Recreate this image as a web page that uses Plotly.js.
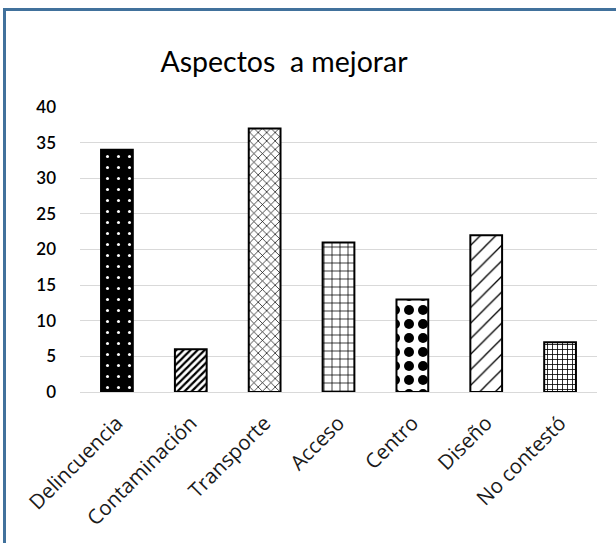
<!DOCTYPE html>
<html>
<head>
<meta charset="utf-8">
<script src="https://cdn.plot.ly/plotly-3.0.1.min.js"></script>
<style>
html,body{margin:0;padding:0;background:#fff;}
#wrap{position:relative;width:616px;height:543px;overflow:hidden;}
#chart{position:absolute;left:0;top:0;width:616px;height:543px;}
#frame{position:absolute;left:3px;top:8px;width:700px;height:700px;border-left:3px solid #41719C;border-top:3px solid #41719C;pointer-events:none;}
</style>
</head>
<body>
<div id="wrap"><div id="chart"></div><div id="frame"></div></div>
<script>
var categories = ["Delincuencia","Contaminación","Transporte","Acceso","Centro","Diseño","No contestó"];
var values = [34, 6, 37, 21, 13, 22, 7];
var yTicks = [0, 5, 10, 15, 20, 25, 30, 35, 40];
var chartTitle = "Aspectos\u00a0\u00a0a mejorar";

var patShape = [".", "/", "x", "+", ".", "/", "+"];
var patBg = ["#000000","#ffffff","#ffffff","#ffffff","#ffffff","#ffffff","#ffffff"];
var patFg = ["#ffffff","#000000","#000000","#000000","#000000","#000000","#000000"];
var patSize = [11, 5, 6, 8, 14, 11, 5];
var patSolid = [0.06, 0.45, 0.22, 0.18, 0.4, 0.12, 0.3];

var trace = {
  type: "bar",
  x: categories,
  y: values,
  marker: {
    color: "#ffffff",
    line: {color: "#000000", width: 2},
    pattern: {shape: patShape, bgcolor: patBg, fgcolor: patFg, size: patSize, solidity: patSolid, fillmode: "replace"}
  },
  hoverinfo: "x+y"
};

var layout = {
  width: 616, height: 543,
  margin: {l: 80, r: 19, t: 107, b: 151},
  paper_bgcolor: "#ffffff", plot_bgcolor: "#ffffff",
  bargap: 0.57,
  showlegend: false,
  title: {
    text: chartTitle,
    font: {family: "Lato, 'Liberation Sans', sans-serif", size: 28.5, color: "#000000"},
    x: 0.461, xref: "container", xanchor: "center",
    y: 0.885, yref: "container", yanchor: "middle"
  },
  xaxis: {
    tickangle: -45,
    tickfont: {family: "'Open Sans', sans-serif", size: 20.5, color: "#1a1a1a"},
    showline: true, linecolor: "#d9d9d9", linewidth: 1,
    ticks: "", showgrid: false,
    ticklabelstandoff: 10
  },
  yaxis: {
    range: [0, 40],
    tickvals: yTicks,
    ticktext: yTicks.map(String),
    tickfont: {family: "Lato, sans-serif", size: 17, color: "#000000", weight: 600},
    showgrid: true, gridcolor: "#d9d9d9", gridwidth: 1,
    zeroline: false, showline: false, ticks: "",
    ticklabelstandoff: 23
  }
};

Plotly.newPlot("chart", [trace], layout, {displayModeBar: false, staticPlot: true});
</script>
</body>
</html>
